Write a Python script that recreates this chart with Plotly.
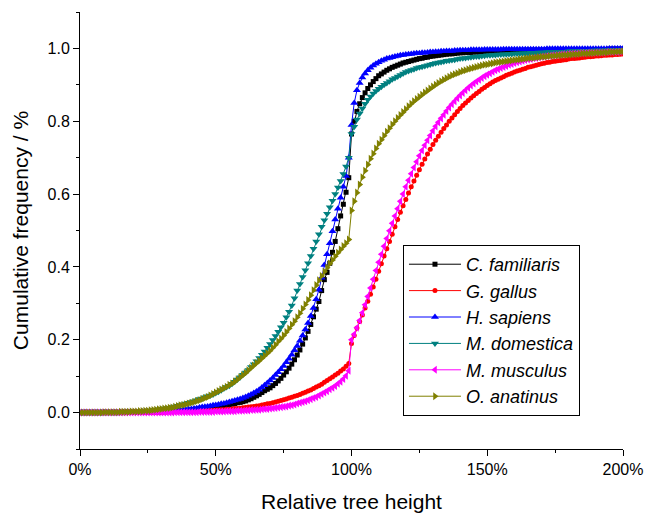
import plotly.graph_objects as go

x_pct = list(range(0, 201))

c_familiaris = [
 0.000,0.000,0.000,0.000,0.000,0.000,0.000,0.000,0.000,0.000,
 0.000,0.000,0.000,0.000,0.000,0.000,0.000,0.001,0.001,0.001,
 0.001,0.001,0.001,0.001,0.001,0.001,0.002,0.002,0.002,0.002,
 0.002,0.003,0.003,0.003,0.003,0.004,0.004,0.005,0.005,0.006,
 0.006,0.007,0.008,0.009,0.010,0.011,0.012,0.013,0.014,0.015,
 0.016,0.017,0.018,0.019,0.020,0.022,0.023,0.025,0.027,0.028,
 0.030,0.032,0.035,0.038,0.042,0.046,0.050,0.055,0.060,0.064,
 0.068,0.074,0.080,0.087,0.094,0.103,0.112,0.122,0.133,0.145,
 0.158,0.172,0.188,0.205,0.223,0.242,0.263,0.284,0.305,0.335,
 0.365,0.385,0.410,0.440,0.470,0.505,0.540,0.572,0.605,0.645,
 0.765,0.800,0.827,0.848,0.865,0.878,0.890,0.900,0.909,0.917,
 0.925,0.930,0.935,0.940,0.944,0.948,0.951,0.954,0.957,0.960,
 0.962,0.964,0.966,0.968,0.970,0.972,0.973,0.975,0.976,0.978,
 0.979,0.980,0.981,0.982,0.983,0.984,0.985,0.985,0.986,0.987,
 0.988,0.988,0.989,0.989,0.989,0.990,0.990,0.990,0.991,0.991,
 0.992,0.992,0.992,0.992,0.993,0.993,0.993,0.993,0.993,0.994,
 0.994,0.994,0.994,0.994,0.995,0.995,0.995,0.995,0.995,0.995,
 0.995,0.995,0.996,0.996,0.996,0.996,0.996,0.996,0.996,0.996,
 0.997,0.997,0.997,0.997,0.997,0.997,0.997,0.997,0.997,0.997,
 0.997,0.997,0.997,0.997,0.997,0.998,0.998,0.998,0.998,0.998,
 0.998]

g_gallus = [
 0.000,0.000,0.000,0.000,0.000,0.000,0.000,0.000,0.000,0.000,
 0.000,0.000,0.000,0.000,0.000,0.000,0.000,0.000,0.000,0.000,
 0.000,0.000,0.000,0.000,0.000,0.001,0.001,0.001,0.001,0.001,
 0.001,0.001,0.001,0.002,0.002,0.002,0.002,0.002,0.003,0.003,
 0.003,0.003,0.004,0.004,0.004,0.005,0.005,0.005,0.006,0.006,
 0.007,0.007,0.008,0.008,0.009,0.009,0.010,0.011,0.011,0.012,
 0.013,0.014,0.015,0.016,0.017,0.018,0.019,0.021,0.022,0.024,
 0.025,0.027,0.029,0.031,0.033,0.035,0.037,0.040,0.042,0.045,
 0.047,0.050,0.053,0.056,0.059,0.062,0.066,0.070,0.074,0.078,
 0.083,0.088,0.093,0.098,0.103,0.108,0.114,0.120,0.127,0.135,
 0.190,0.212,0.232,0.250,0.268,0.287,0.306,0.325,0.345,0.366,
 0.388,0.409,0.430,0.450,0.470,0.490,0.510,0.530,0.550,0.568,
 0.585,0.603,0.620,0.636,0.652,0.667,0.682,0.696,0.710,0.723,
 0.736,0.748,0.759,0.770,0.780,0.790,0.800,0.809,0.818,0.827,
 0.835,0.843,0.850,0.857,0.864,0.870,0.876,0.882,0.888,0.893,
 0.898,0.903,0.908,0.912,0.915,0.919,0.922,0.926,0.929,0.932,
 0.935,0.938,0.940,0.943,0.945,0.948,0.950,0.952,0.954,0.956,
 0.958,0.959,0.961,0.962,0.964,0.965,0.966,0.967,0.968,0.969,
 0.971,0.972,0.972,0.973,0.974,0.975,0.976,0.977,0.977,0.978,
 0.979,0.979,0.980,0.981,0.981,0.982,0.982,0.983,0.983,0.984,
 0.985]

h_sapiens = [
 0.000,0.000,0.000,0.000,0.000,0.000,0.000,0.000,0.000,0.000,
 0.000,0.000,0.000,0.000,0.000,0.001,0.001,0.001,0.001,0.001,
 0.001,0.001,0.001,0.002,0.002,0.002,0.002,0.002,0.003,0.003,
 0.003,0.004,0.004,0.004,0.005,0.005,0.006,0.006,0.007,0.008,
 0.009,0.010,0.011,0.012,0.014,0.015,0.016,0.017,0.018,0.020,
 0.021,0.022,0.024,0.025,0.027,0.029,0.031,0.033,0.035,0.037,
 0.040,0.043,0.046,0.050,0.054,0.058,0.063,0.069,0.075,0.081,
 0.088,0.095,0.103,0.111,0.119,0.128,0.138,0.148,0.159,0.171,
 0.183,0.197,0.212,0.228,0.246,0.265,0.287,0.311,0.337,0.370,
 0.405,0.435,0.465,0.498,0.530,0.560,0.590,0.620,0.650,0.700,
 0.790,0.850,0.885,0.905,0.920,0.931,0.940,0.947,0.953,0.958,
 0.962,0.966,0.969,0.972,0.974,0.976,0.978,0.979,0.981,0.982,
 0.983,0.984,0.985,0.986,0.987,0.987,0.988,0.988,0.989,0.990,
 0.990,0.991,0.991,0.992,0.992,0.993,0.993,0.993,0.994,0.994,
 0.995,0.995,0.995,0.995,0.996,0.996,0.996,0.996,0.996,0.997,
 0.997,0.997,0.997,0.997,0.997,0.997,0.998,0.998,0.998,0.998,
 0.998,0.998,0.998,0.998,0.998,0.998,0.998,0.998,0.998,0.998,
 0.998,0.998,0.999,0.999,0.999,0.999,0.999,0.999,0.999,0.999,
 0.999,0.999,0.999,0.999,0.999,0.999,0.999,0.999,0.999,0.999,
 0.999,0.999,0.999,0.999,0.999,1.000,1.000,1.000,1.000,1.000,
 1.000]

m_domestica = [
 0.000,0.000,0.000,0.000,0.000,0.000,0.000,0.000,0.000,0.001,
 0.001,0.001,0.001,0.001,0.001,0.002,0.002,0.002,0.002,0.003,
 0.003,0.003,0.004,0.004,0.005,0.005,0.006,0.007,0.008,0.009,
 0.010,0.011,0.012,0.013,0.015,0.017,0.019,0.021,0.023,0.025,
 0.027,0.029,0.031,0.034,0.037,0.039,0.042,0.045,0.047,0.050,
 0.054,0.057,0.061,0.066,0.070,0.074,0.079,0.085,0.091,0.097,
 0.104,0.110,0.117,0.125,0.133,0.141,0.150,0.159,0.168,0.178,
 0.188,0.199,0.210,0.222,0.234,0.247,0.262,0.277,0.294,0.314,
 0.335,0.353,0.372,0.391,0.410,0.430,0.450,0.470,0.490,0.510,
 0.528,0.546,0.564,0.582,0.600,0.618,0.636,0.655,0.676,0.700,
 0.765,0.785,0.805,0.821,0.835,0.848,0.859,0.868,0.876,0.883,
 0.889,0.895,0.900,0.905,0.910,0.915,0.919,0.923,0.927,0.931,
 0.935,0.938,0.941,0.943,0.946,0.948,0.950,0.952,0.954,0.956,
 0.958,0.960,0.961,0.963,0.964,0.966,0.967,0.968,0.969,0.971,
 0.972,0.973,0.974,0.975,0.976,0.977,0.978,0.978,0.979,0.980,
 0.981,0.981,0.982,0.982,0.983,0.983,0.984,0.984,0.985,0.985,
 0.986,0.986,0.986,0.987,0.987,0.987,0.988,0.988,0.988,0.989,
 0.989,0.989,0.990,0.990,0.990,0.990,0.991,0.991,0.991,0.991,
 0.992,0.992,0.992,0.992,0.993,0.993,0.993,0.993,0.993,0.994,
 0.994,0.994,0.994,0.994,0.995,0.995,0.995,0.995,0.995,0.996,
 0.996]

m_musculus = [
 0.000,0.000,0.000,0.000,0.000,0.000,0.000,0.000,0.000,0.000,
 0.000,0.000,0.000,0.000,0.000,0.000,0.000,0.000,0.000,0.000,
 0.000,0.000,0.000,0.000,0.000,0.000,0.000,0.000,0.000,0.000,
 0.000,0.000,0.000,0.000,0.000,0.001,0.001,0.001,0.001,0.001,
 0.001,0.001,0.001,0.001,0.002,0.002,0.002,0.002,0.002,0.002,
 0.003,0.003,0.003,0.003,0.004,0.004,0.004,0.004,0.005,0.005,
 0.005,0.006,0.006,0.007,0.007,0.008,0.008,0.009,0.010,0.010,
 0.011,0.012,0.013,0.014,0.015,0.016,0.017,0.019,0.020,0.022,
 0.025,0.027,0.029,0.031,0.034,0.037,0.040,0.043,0.047,0.051,
 0.055,0.059,0.064,0.068,0.073,0.079,0.085,0.092,0.101,0.115,
 0.200,0.215,0.233,0.253,0.274,0.296,0.319,0.342,0.366,0.390,
 0.413,0.435,0.457,0.478,0.499,0.520,0.540,0.560,0.580,0.600,
 0.620,0.638,0.656,0.673,0.689,0.705,0.720,0.734,0.748,0.761,
 0.774,0.786,0.797,0.808,0.818,0.828,0.838,0.847,0.855,0.863,
 0.871,0.878,0.885,0.892,0.898,0.904,0.909,0.914,0.919,0.924,
 0.928,0.932,0.936,0.940,0.943,0.946,0.949,0.952,0.955,0.957,
 0.960,0.962,0.964,0.966,0.968,0.970,0.971,0.973,0.974,0.975,
 0.977,0.978,0.979,0.980,0.981,0.981,0.982,0.983,0.984,0.984,
 0.985,0.985,0.986,0.986,0.987,0.987,0.987,0.988,0.988,0.988,
 0.989,0.989,0.989,0.989,0.990,0.990,0.990,0.990,0.990,0.991,
 0.991]

o_anatinus = [
 0.000,0.000,0.000,0.000,0.000,0.000,0.000,0.000,0.000,0.001,
 0.001,0.001,0.001,0.001,0.001,0.002,0.002,0.002,0.002,0.003,
 0.003,0.003,0.004,0.004,0.005,0.005,0.006,0.007,0.008,0.009,
 0.010,0.011,0.012,0.013,0.014,0.016,0.018,0.020,0.021,0.023,
 0.025,0.027,0.029,0.032,0.034,0.037,0.040,0.043,0.047,0.051,
 0.055,0.059,0.063,0.067,0.071,0.076,0.080,0.085,0.091,0.097,
 0.103,0.109,0.116,0.123,0.129,0.136,0.142,0.149,0.156,0.163,
 0.170,0.178,0.186,0.195,0.203,0.212,0.221,0.231,0.241,0.251,
 0.262,0.273,0.285,0.297,0.309,0.322,0.336,0.350,0.363,0.375,
 0.387,0.398,0.409,0.419,0.429,0.439,0.448,0.457,0.465,0.475,
 0.555,0.580,0.604,0.626,0.646,0.664,0.681,0.697,0.711,0.725,
 0.738,0.749,0.760,0.771,0.781,0.791,0.800,0.809,0.817,0.825,
 0.833,0.841,0.848,0.855,0.861,0.867,0.873,0.879,0.884,0.890,
 0.895,0.900,0.905,0.910,0.914,0.918,0.922,0.926,0.929,0.932,
 0.935,0.938,0.940,0.943,0.945,0.947,0.949,0.951,0.953,0.955,
 0.956,0.958,0.959,0.961,0.962,0.963,0.964,0.965,0.966,0.967,
 0.968,0.969,0.970,0.971,0.972,0.973,0.974,0.974,0.975,0.976,
 0.977,0.977,0.978,0.979,0.979,0.980,0.981,0.981,0.982,0.982,
 0.983,0.983,0.984,0.984,0.985,0.986,0.986,0.986,0.987,0.987,
 0.988,0.988,0.988,0.989,0.989,0.990,0.990,0.990,0.991,0.991,
 0.992]

series_names = ["C. familiaris", "G. gallus", "H. sapiens",
                "M. domestica", "M. musculus", "O. anatinus"]
series_values = [c_familiaris, g_gallus, h_sapiens,
                 m_domestica, m_musculus, o_anatinus]
series_colors = ["#000000", "#FF0000", "#0000FF",
                 "#008080", "#FF00FF", "#808000"]
series_symbols = ["square", "circle", "triangle-up",
                  "triangle-down", "triangle-left", "triangle-right"]
series_sizes = [5, 5, 7, 7, 7, 7]

x_tick_vals = [0, 50, 100, 150, 200]
x_tick_text = ["0%", "50%", "100%", "150%", "200%"]
y_tick_vals = [0.0, 0.2, 0.4, 0.6, 0.8, 1.0]

for v in series_values:
    assert len(v) == len(x_pct), len(v)

FONT = "Arial, Liberation Sans, sans-serif"

fig = go.Figure()
for name, vals, col, sym, sz in zip(series_names, series_values, series_colors,
                                     series_symbols, series_sizes):
    fig.add_trace(go.Scatter(
        x=x_pct, y=vals, mode="lines+markers",
        name="<i>" + name + "</i>",
        line=dict(color=col, width=1),
        marker=dict(symbol=sym, size=sz, color=col, line=dict(width=0)),
    ))

fig.update_layout(
    width=649, height=519,
    margin=dict(l=80, r=26, t=12, b=70),
    paper_bgcolor="white", plot_bgcolor="white",
    font=dict(family=FONT, size=16, color="black"),
    showlegend=True,
    legend=dict(
        x=0.5948, y=0.4668, xanchor="left", yanchor="top",
        bgcolor="white", bordercolor="black", borderwidth=1,
        font=dict(family=FONT, size=18, color="black"),
        itemwidth=52, tracegroupgap=0,
    ),
    xaxis=dict(
        range=[0, 200], showgrid=False, zeroline=False, automargin=False,
        showline=True, linecolor="black", linewidth=1, mirror=False,
        tickmode="array", tickvals=x_tick_vals, ticktext=x_tick_text,
        ticks="outside", ticklen=6, tickwidth=1, tickcolor="black",
        tickfont=dict(family=FONT, size=16, color="black"),
        minor=dict(dtick=25, ticks="outside", ticklen=3, tickwidth=1,
                   tickcolor="black", showgrid=False),
        title=dict(text="Relative tree height",
                   font=dict(family=FONT, size=21, color="black"),
                   standoff=17),
    ),
    yaxis=dict(
        range=[-0.1, 1.1], showgrid=False, zeroline=False, automargin=False,
        showline=True, linecolor="black", linewidth=1, mirror=False,
        tickmode="array", tickvals=y_tick_vals, tickformat=".1f",
        ticks="outside", ticklen=6, tickwidth=1, tickcolor="black",
        tickfont=dict(family=FONT, size=16, color="black"),
        minor=dict(dtick=0.1, tick0=0, ticks="outside", ticklen=3, tickwidth=1,
                   tickcolor="black", showgrid=False),
        title=dict(text="Cumulative frequency / %",
                   font=dict(family=FONT, size=21, color="black"),
                   standoff=13),
    ),
)

fig.write_html("out.html")
